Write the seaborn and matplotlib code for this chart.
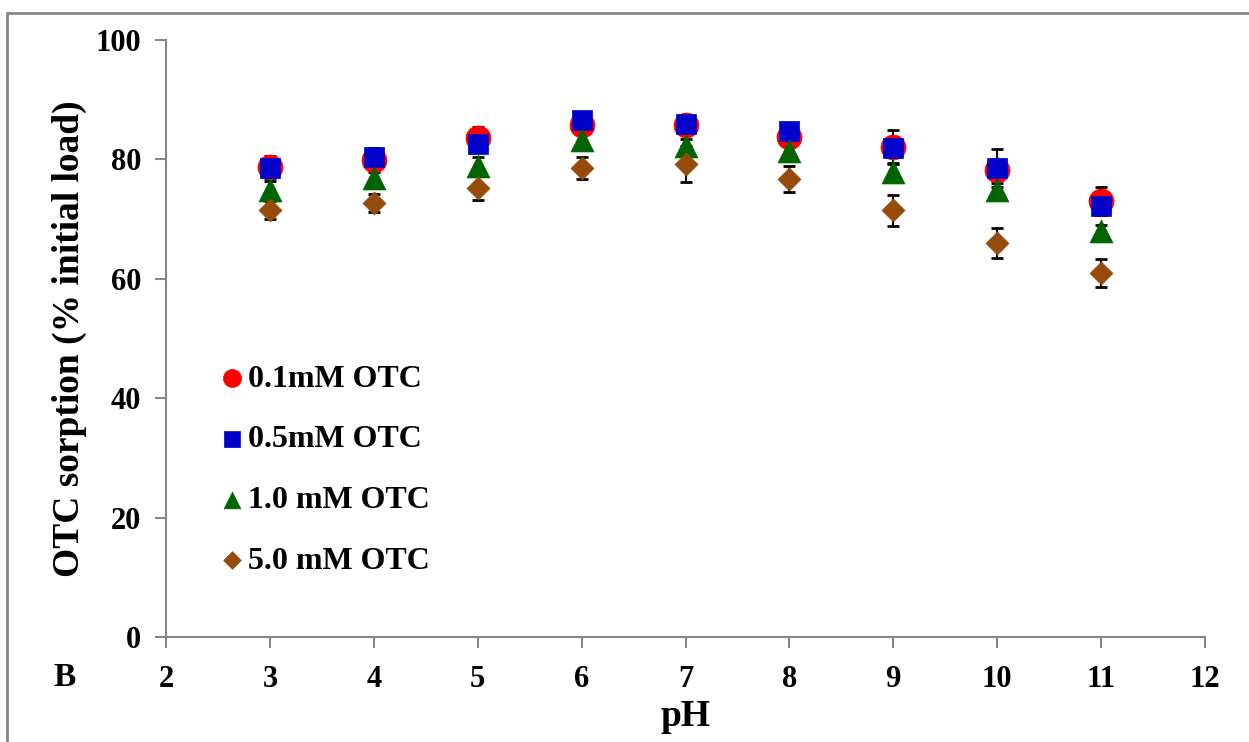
import matplotlib
matplotlib.use("Agg")
import matplotlib.pyplot as plt
import seaborn as sns
import pandas as pd
from matplotlib.lines import Line2D

ph = [3, 4, 5, 6, 7, 8, 9, 10, 11]
labels = ["0.1mM OTC", "0.5mM OTC", "1.0 mM OTC", "5.0 mM OTC"]
v01 = [78.7, 79.9, 83.6, 85.8, 85.8, 83.8, 82.1, 78.2, 73.0]
e01 = [1.8, 2.0, 1.8, 1.0, 1.0, 1.0, 2.8, 1.5, 2.3]
v05 = [78.5, 80.4, 82.6, 86.6, 85.9, 84.8, 81.9, 78.6, 72.2]
e05 = [1.5, 1.5, 1.0, 1.0, 1.0, 1.0, 1.5, 3.2, 1.5]
v10 = [74.9, 76.9, 78.9, 83.2, 82.2, 81.4, 77.9, 74.9, 68.0]
e10 = [1.5, 1.5, 1.5, 1.2, 1.2, 1.2, 1.5, 1.2, 1.0]
v50 = [71.5, 72.7, 75.2, 78.6, 79.2, 76.7, 71.5, 66.0, 61.0]
e50 = [1.5, 1.5, 2.0, 1.8, 3.0, 2.2, 2.6, 2.5, 2.4]

values = [v01, v05, v10, v50]
errors = [e01, e05, e10, e50]
colors = ["#FF0000", "#0000CC", "#006400", "#964B0A"]
markers = ["o", "s", "^", "D"]
msizes = [18, 14.5, 16.5, 11.7]

sns.set_style("white")
plt.rcParams["font.family"] = ["Liberation Serif", "DejaVu Serif"]
plt.rcParams["font.weight"] = "bold"
plt.rcParams["text.color"] = "black"
plt.rcParams["axes.labelcolor"] = "black"
plt.rcParams["xtick.color"] = "black"
plt.rcParams["ytick.color"] = "black"

fig = plt.figure(figsize=(12.49, 7.42), dpi=100)
ax = fig.add_axes([166 / 1249, 105 / 742, (1205 - 166) / 1249, (637 - 40) / 742])

for lab, v, e, c, m, ms in zip(labels, values, errors, colors, markers, msizes):
    df = pd.DataFrame({"pH": ph, "val": v, "err": e})
    ax.errorbar(df["pH"], df["val"], yerr=df["err"], fmt="none", ecolor="black",
                elinewidth=1.5, capsize=4.5, capthick=2, zorder=2)
    sns.scatterplot(data=df, x="pH", y="val", marker=m, s=ms ** 2, color=c,
                    edgecolor=c, linewidth=0.5, label=lab, ax=ax, zorder=3)

ax.set_xlim(2, 12)
ax.set_ylim(0, 100)
ax.set_xticks(range(2, 13))
ax.set_yticks(range(0, 101, 20))
for s in ["top", "right"]:
    ax.spines[s].set_visible(False)
for s in ["left", "bottom"]:
    ax.spines[s].set_color("#868686")
    ax.spines[s].set_linewidth(1.5)
ax.tick_params(axis="both", which="major", direction="out", length=8, width=1.5,
               color="#868686", labelcolor="black", labelsize=22, pad=10,
               bottom=True, left=True)
ax.tick_params(axis="x", pad=12)
for t in ax.get_xticklabels() + ax.get_yticklabels():
    t.set_fontweight("bold")
ax.set_xlabel("pH", fontsize=27, fontweight="bold", labelpad=4, color="black")
ax.set_ylabel("OTC sorption (% initial load)", fontsize=27, fontweight="bold",
              labelpad=6, color="black")

leg = ax.legend(loc="upper left", bbox_to_anchor=(0.033, 0.478), frameon=False,
                prop={"size": 23, "weight": "bold"}, handletextpad=-0.1,
                labelspacing=0.98, handlelength=1.2, borderaxespad=0)
for txt in leg.get_texts():
    txt.set_color("black")
for h, ms in zip(leg.legend_handles, [13, 11, 12, 9]):
    try:
        h.set_sizes([ms ** 2])
    except Exception:
        pass

fig.text(65 / 1249, 1 - 678 / 742, "B", fontsize=24, fontweight="bold",
         ha="center", va="center", color="black")

fig.add_artist(Line2D([7 / 1249, 7 / 1249], [0, 1 - 13 / 742], transform=fig.transFigure,
                      color="#868686", linewidth=2))
fig.add_artist(Line2D([7 / 1249, 1], [1 - 13 / 742, 1 - 13 / 742], transform=fig.transFigure,
                      color="#868686", linewidth=2))

fig.savefig("out.png", dpi=100)
